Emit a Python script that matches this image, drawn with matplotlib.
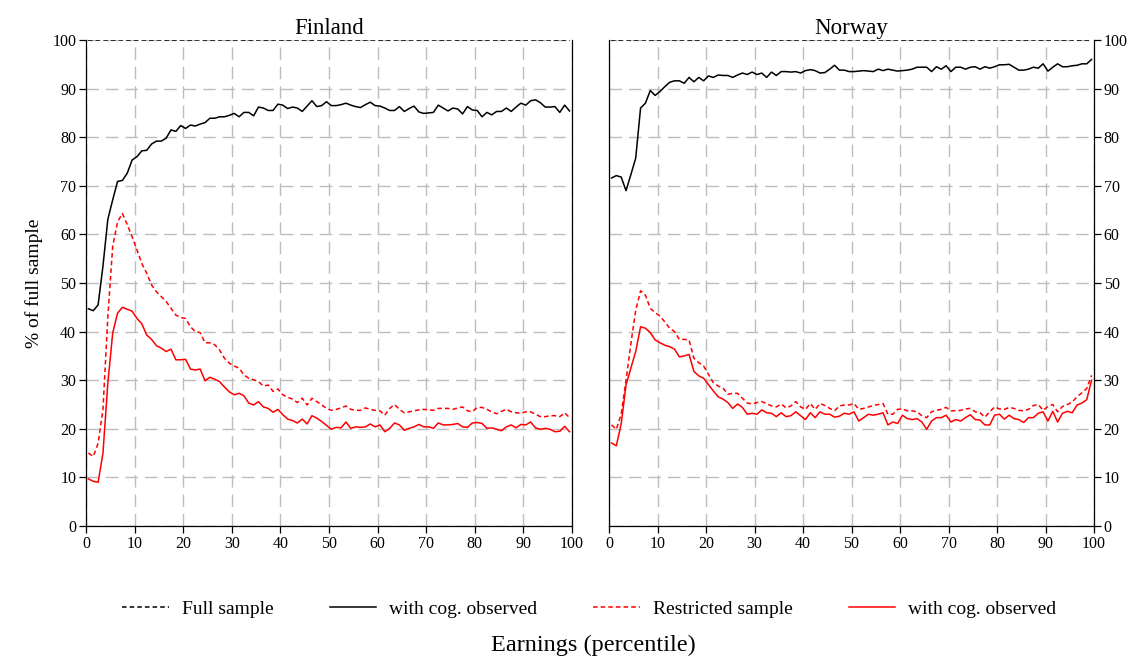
import numpy as np
import matplotlib
matplotlib.use("Agg")
import matplotlib.pyplot as plt
from matplotlib.lines import Line2D

plt.rcParams['font.family'] = ['Liberation Serif', 'DejaVu Serif']

# percentile bins (centres)
pct = np.arange(100) + 0.5

# ---- Finland ----
fin_full = [100.0] * 100
fin_cog = [44.7, 44.3, 45.5, 53.5, 63.1, 67.1, 70.9, 71.1, 72.6, 75.3,
           76.0, 77.2, 77.3, 78.6, 79.2, 79.2, 79.8, 81.5, 81.2, 82.4,
           81.8, 82.5, 82.3, 82.7, 83.0, 83.9, 83.9, 84.2, 84.2, 84.5,
           84.9, 84.2, 85.1, 85.1, 84.4, 86.2, 86.0, 85.5, 85.5, 86.8,
           86.6, 85.9, 86.2, 86.0, 85.3, 86.4, 87.5, 86.3, 86.5, 87.3,
           86.5, 86.5, 86.7, 87.0, 86.6, 86.3, 86.1, 86.7, 87.2, 86.5,
           86.4, 86.0, 85.5, 85.5, 86.3, 85.3, 85.9, 86.4, 85.2, 84.9,
           85.0, 85.1, 86.6, 86.0, 85.4, 86.0, 85.8, 84.8, 86.3, 85.6,
           85.5, 84.2, 85.1, 84.6, 85.3, 85.3, 86.0, 85.3, 86.2, 87.0,
           86.6, 87.5, 87.7, 87.1, 86.2, 86.2, 86.3, 85.1, 86.6, 85.4]
fin_res = [15.0, 14.3, 17.0, 24.0, 43.0, 57.5, 62.6, 64.3, 62.0, 59.5,
           56.8, 54.0, 52.0, 49.6, 48.2, 47.2, 46.2, 44.8, 43.4, 42.9,
           42.7, 41.0, 40.0, 39.8, 37.7, 37.7, 37.3, 36.2, 34.5, 33.5,
           32.9, 32.5, 31.1, 30.4, 30.1, 29.7, 28.8, 29.0, 27.7, 28.2,
           27.0, 26.5, 26.1, 25.4, 26.3, 24.9, 26.3, 25.6, 24.9, 24.2,
           23.8, 24.0, 24.3, 24.7, 24.0, 23.8, 23.8, 24.3, 24.0, 23.8,
           23.7, 22.8, 24.2, 25.0, 24.0, 23.3, 23.5, 23.7, 23.9, 24.0,
           23.9, 23.8, 24.2, 24.2, 24.2, 24.0, 24.3, 24.5, 23.7, 23.5,
           24.4, 24.4, 24.0, 23.5, 23.1, 23.6, 24.0, 23.5, 23.3, 23.2,
           23.5, 23.5, 23.0, 22.5, 22.5, 22.7, 22.7, 22.5, 23.3, 22.3]
fin_res_cog = [9.7, 9.2, 9.0, 15.0, 29.4, 39.7, 43.8, 45.0, 44.6, 44.2,
               42.7, 41.6, 39.3, 38.4, 37.1, 36.6, 35.9, 36.4, 34.2, 34.2,
               34.3, 32.3, 32.1, 32.3, 29.9, 30.6, 30.2, 29.7, 28.6, 27.6,
               27.0, 27.3, 26.8, 25.3, 24.9, 25.6, 24.5, 24.2, 23.4, 24.0,
               22.9, 22.0, 21.7, 21.2, 22.0, 21.0, 22.7, 22.2, 21.5, 20.7,
               19.9, 20.3, 20.2, 21.4, 20.1, 20.4, 20.3, 20.4, 21.0, 20.4,
               20.8, 19.4, 20.1, 21.2, 20.8, 19.7, 20.1, 20.4, 20.9, 20.4,
               20.4, 20.1, 21.2, 20.8, 20.8, 20.9, 21.1, 20.4, 20.3, 21.2,
               21.3, 21.1, 20.1, 20.2, 19.9, 19.6, 20.4, 20.8, 20.2, 20.9,
               20.8, 21.4, 20.2, 19.9, 20.1, 19.9, 19.4, 19.5, 20.5, 19.4]

# ---- Norway ----
nor_full = [100.0] * 100
nor_cog = [71.6, 72.1, 71.8, 69.0, 72.3, 75.7, 86.0, 87.0, 89.6, 88.6,
           89.4, 90.4, 91.3, 91.6, 91.6, 91.1, 92.3, 91.4, 92.3, 91.6,
           92.6, 92.3, 92.8, 92.7, 92.7, 92.3, 92.8, 93.2, 92.9, 93.4,
           92.9, 93.2, 92.3, 93.4, 92.7, 93.5, 93.5, 93.4, 93.5, 93.2,
           93.7, 93.9, 93.7, 93.2, 93.3, 94.0, 94.8, 93.8, 93.8, 93.5,
           93.5, 93.6, 93.7, 93.6, 93.5, 94.0, 93.7, 94.0, 93.8, 93.6,
           93.7, 93.8, 94.0, 94.4, 94.4, 94.4, 93.5, 94.5, 94.0, 94.7,
           93.5, 94.4, 94.4, 94.0, 94.4, 94.5, 94.0, 94.5, 94.2, 94.5,
           94.9, 94.9, 95.0, 94.4, 93.8, 93.8, 94.0, 94.4, 94.2, 95.1,
           93.6, 94.4, 95.1, 94.5, 94.5, 94.7, 94.8, 95.1, 95.1, 96.0]
nor_res = [20.8, 19.9, 23.0, 30.0, 37.5, 44.4, 48.4, 47.5, 44.8, 43.9,
           43.2, 42.0, 40.7, 40.0, 38.4, 38.4, 38.3, 34.5, 33.6, 32.9,
           31.2, 29.5, 28.8, 28.4, 27.1, 27.3, 27.3, 26.3, 25.3, 25.1,
           25.4, 25.6, 25.2, 24.7, 24.5, 25.1, 24.3, 24.7, 25.6, 24.5,
           24.0, 25.2, 24.0, 25.2, 24.8, 24.2, 23.7, 24.7, 24.9, 24.9,
           25.2, 24.0, 24.2, 24.5, 24.8, 25.0, 25.2, 23.0, 23.0, 24.0,
           24.1, 23.7, 23.7, 23.5, 22.7, 22.3, 23.5, 23.8, 24.0, 24.4,
           23.7, 23.7, 23.8, 24.1, 24.2, 23.5, 23.3, 22.4, 23.5, 24.5,
           24.1, 24.0, 24.4, 24.2, 23.8, 23.7, 24.0, 24.8, 25.0, 23.8,
           24.6, 25.0, 23.5, 24.6, 25.0, 25.5, 26.6, 27.4, 28.3, 31.0]
nor_res_cog = [17.1, 16.5, 21.0, 29.0, 32.5, 35.9, 41.0, 40.7, 39.8, 38.3,
               37.7, 37.2, 36.9, 36.4, 34.8, 35.0, 35.3, 31.8, 30.9, 30.4,
               29.1, 27.8, 26.6, 26.1, 25.4, 24.2, 25.1, 24.4, 23.0, 23.2,
               23.0, 23.9, 23.3, 23.2, 22.5, 23.3, 22.5, 22.7, 23.5, 22.7,
               21.9, 23.3, 22.3, 23.5, 23.0, 23.0, 22.4, 22.6, 23.2, 23.0,
               23.5, 21.6, 22.3, 23.0, 22.8, 23.0, 23.3, 20.8, 21.4, 21.1,
               22.8, 22.1, 21.9, 22.1, 21.4, 19.9, 21.6, 22.3, 22.3, 22.8,
               21.4, 21.9, 21.6, 22.3, 22.9, 21.9, 21.8, 20.8, 20.8, 22.8,
               23.0, 22.0, 22.8, 22.1, 21.9, 21.3, 22.3, 22.3, 23.2, 23.5,
               21.6, 23.6, 21.4, 23.2, 23.6, 23.3, 24.9, 25.3, 26.0, 30.0]

ticks = list(range(0, 101, 10))
labels = ['Full sample', 'with cog. observed', 'Restricted sample', 'with cog. observed']

fig = plt.figure(figsize=(11.31, 6.59), dpi=100)
ax1 = fig.add_axes([0.076, 0.2018, 0.4297, 0.7375])
ax2 = fig.add_axes([0.5385, 0.2018, 0.4288, 0.7375])

panels = [(ax1, 'Finland', fin_full, fin_cog, fin_res, fin_res_cog),
          (ax2, 'Norway', nor_full, nor_cog, nor_res, nor_res_cog)]

for ax, name, full, cog, res, res_cog in panels:
    ax.grid(True, color='#bdbdbd', linestyle=(0, (9, 5)), linewidth=1.0)
    ax.set_axisbelow(True)
    ax.plot(pct, full, color='black', linestyle=(0, (3, 2)), linewidth=1.1, zorder=3)
    ax.plot(pct, cog, color='black', linewidth=1.1, zorder=3)
    ax.plot(pct, res, color='#ff0000', linestyle=(0, (3, 2)), linewidth=1.1, zorder=3)
    ax.plot(pct, res_cog, color='#ff0000', linewidth=1.1, zorder=3)
    ax.set_xlim(0, 100)
    ax.set_ylim(0, 100)
    ax.set_xticks(ticks)
    ax.set_yticks(ticks)
    ax.set_title(name, fontsize=16.5, pad=4)
    ax.spines['top'].set_visible(False)
    for s in ['left', 'right', 'bottom']:
        ax.spines[s].set_linewidth(0.9)
    ax.tick_params(direction='out', length=5, width=0.9, labelsize=11.5, pad=2)

ax1.yaxis.set_ticks_position('left')
ax2.yaxis.set_ticks_position('right')
ax2.yaxis.set_label_position('right')
ax2.tick_params(axis='y', labelleft=False, labelright=True)

ax1.set_ylabel('% of full sample', fontsize=14, labelpad=7)

handles = [Line2D([], [], color='black', linestyle=(0, (3, 2)), linewidth=1.1),
           Line2D([], [], color='black', linewidth=1.1),
           Line2D([], [], color='#ff0000', linestyle=(0, (3, 2)), linewidth=1.1),
           Line2D([], [], color='#ff0000', linewidth=1.1)]
fig.legend(handles, labels, loc='center', bbox_to_anchor=(0.521, 0.076), ncol=4,
           frameon=False, fontsize=14, handlelength=2.4, columnspacing=2.9,
           handletextpad=0.65)

fig.text(0.525, 0.004, 'Earnings (percentile)', ha='center', va='bottom', fontsize=17.5)

fig.savefig('out.png', dpi=100)
